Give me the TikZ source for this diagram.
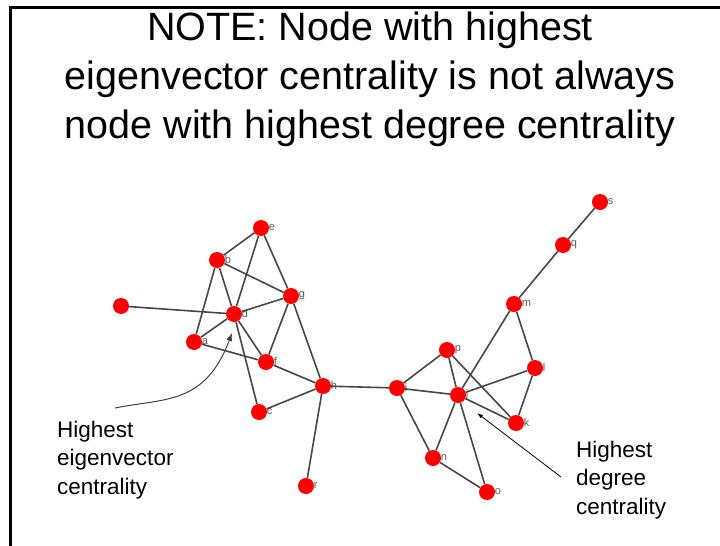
\documentclass[tikz,border=0pt]{standalone}
\usepackage{fontspec}
\setmainfont{Liberation Sans}
\usepackage{tikz}
\usetikzlibrary{arrows.meta, positioning, calc}

\tikzset{
  vertex/.style={circle, fill=red, minimum size=16pt, inner sep=0pt},
  tag/.style={text=black!65, font=\fontsize{11}{12}\selectfont, inner sep=0.5pt},
  edge/.style={draw=black!72, line width=1.6pt},
  note/.style={align=left, inner sep=0pt, font=\fontsize{22.5}{28.5}\selectfont}
}

\begin{document}
\begin{tikzpicture}[x=1pt, y=-1pt]
  \useasboundingbox (0,0) rectangle (720,546);
  % slide frame
  \draw[line width=3pt] (10,546) -- (10,7) -- (720,7);

  \node[anchor=north, align=center, inner sep=0pt, font=\fontsize{39.5}{49}\selectfont] (title) at (370,12)
    {NOTE: Node with highest\\eigenvector centrality is not always\\node with highest degree centrality};

  % left cluster
  \node[vertex, label={[tag, label distance=-1pt]right:e}] (e) at (261,228) {};
  \node[vertex, label={[tag, label distance=-1pt]right:b}] (b) at (217,260) {};
  \node[vertex, label={[tag, label distance=-1pt]right:g}] (g) at (291,296) {};
  \node[vertex, label={[tag, label distance=-1pt]right:d}] (d) at (234,314) {};
  \node[vertex] (x) at (121,306) {};
  \node[vertex, label={[tag, label distance=-1pt]right:a}] (a) at (194,342) {};
  \node[vertex, label={[tag, label distance=-1pt]right:f}] (f) at (266,362) {};
  \node[vertex, label={[tag, label distance=-1pt]right:h}] (h) at (323,386) {};
  \node[vertex, label={[tag, label distance=-1pt]right:c}] (c) at (259,412) {};
  \node[vertex, label={[tag, label distance=-1pt]right:r}] (r) at (306,486) {};
  % right cluster
  \node[vertex, label={[tag, label distance=-1pt]right:i}] (i) at (397,388) {};
  \node[vertex, label={[tag, label distance=-1pt]right:p}] (p) at (447,350) {};
  \node[vertex, label={[tag, label distance=-1pt]right:j}] (j) at (458,395) {};
  \node[vertex, label={[tag, label distance=-1pt]right:l}] (l) at (535,368) {};
  \node[vertex, label={[tag, label distance=-1pt]right:k}] (k) at (516,423) {};
  \node[vertex, label={[tag, label distance=-1pt]right:n}] (n) at (433,458) {};
  \node[vertex, label={[tag, label distance=-1pt]right:o}] (o) at (487,492) {};
  \node[vertex, label={[tag, label distance=-1pt]right:m}] (m) at (514,304) {};
  \node[vertex, label={[tag, label distance=-1pt]right:q}] (q) at (563,245) {};
  \node[vertex, label={[tag, label distance=-1pt]right:s}] (s) at (600,202) {};

  % edges
  \foreach \u/\v in {e/b, e/d, e/g, b/g, b/d, b/a, d/g, d/x, d/a, d/f, d/c, g/f, g/h,
                     a/f, f/h, h/c, h/r, h/i, i/p, i/j, i/n, p/j, p/k, j/m, j/l, j/k,
                     j/n, j/o, n/o, m/l, l/k, m/q, q/s}
    \path[edge] (\u) -- (\v);

  % annotations
  \node[note, anchor=north west] (eigtext) at (57,420.5) {Highest\\eigenvector\\centrality};
  \node[note, anchor=north west] (degtext) at (576,440.5) {Highest\\degree\\centrality};
  \coordinate (eigstart) at (115,408);
  \coordinate (eigtip) at (232,333);
  \coordinate (degstart) at (561,477);
  \coordinate (degtip) at (477,413);
  \draw[black!75, line width=1pt, -{Latex[length=8pt, width=6pt]}]
    (eigstart) .. controls (165,398) and (205,405) .. (eigtip);
  \draw[black, line width=0.8pt, -{Latex[length=6pt, width=4pt]}] (degstart) -- (degtip);
\end{tikzpicture}
\end{document}
